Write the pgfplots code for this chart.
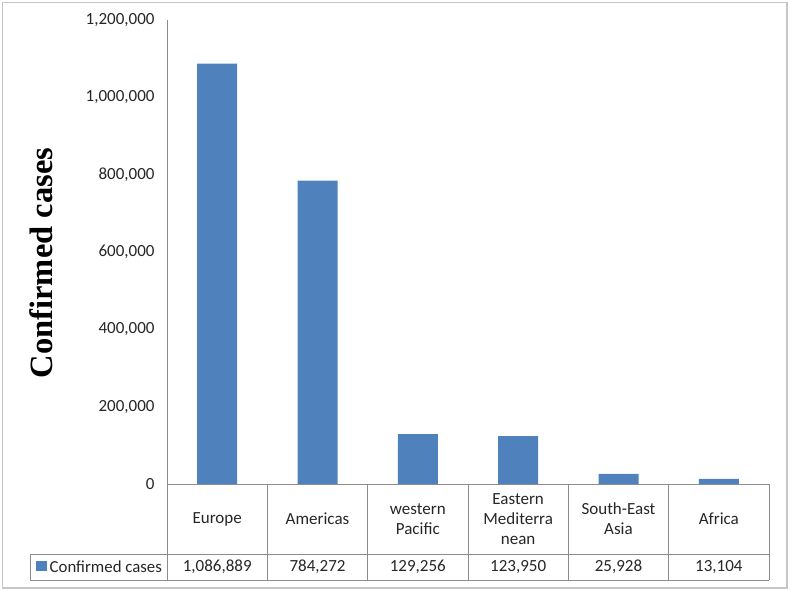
\documentclass[border=0pt]{standalone}
\usepackage{pgfplots}
\pgfplotsset{compat=1.18}
\usepackage{fontspec}
\setmainfont{Carlito}
\newfontfamily\timesfont{Liberation Serif}
\definecolor{barblue}{HTML}{4F81BD}
\definecolor{linegray}{HTML}{8C8C8C}
\begin{document}
\begin{tikzpicture}[x=1pt,y=1pt]
\path[use as bounding box] (0,0) rectangle (790,591);
\draw[gray!45, line width=1.6pt] (2.5,3) rectangle (787,588.5);
\begin{axis}[
  at={(167pt,107pt)}, anchor=south west,
  scale only axis, width=602pt, height=464pt,
  ybar, bar width=40pt,
  xmin=-0.5, xmax=5.5, ymin=0, ymax=1200000,
  axis x line*=bottom, axis y line*=left,
  axis line style={linegray, -, line width=0.8pt},
  major tick length=0pt,
  ytick={0,200000,400000,600000,800000,1000000,1200000},
  yticklabels={0,{200,000},{400,000},{600,000},{800,000},{1,000,000},{1,200,000}},
  scaled y ticks=false,
  yticklabel style={font=\fontsize{17}{19}\selectfont, text=black!85, xshift=-9pt},
  xtick={0,1,2,3,4,5},
  xticklabels={Europe, Americas, {western\\Pacific}, {Eastern\\Mediterra\\nean}, {South-East\\Asia}, Africa},
  xticklabel style={font=\fontsize{17}{20}\selectfont, text=black!85, align=center, anchor=center, yshift=-35pt},
  clip=false,
]
\addplot[fill=barblue, draw=none] coordinates {(0,1086889) (1,784272) (2,129256) (3,123950) (4,25928) (5,13104)};
\end{axis}
% data table
\begin{scope}[linegray, line width=0.8pt]
\draw (30,37) -- (769,37);
\draw (30,11) -- (769,11);
\draw (30,11) -- (30,37);
\foreach \xx in {167,267.3,367.7,468,568.3,668.7,769} { \draw (\xx,11) -- (\xx,107); }
\end{scope}
\fill[barblue] (36,19.5) rectangle (46.5,30);
\node[anchor=west, inner sep=0pt, font=\fontsize{16.8}{19}\selectfont, text=black!85] at (49.5,24.5) {Confirmed cases};
\begin{scope}[every node/.style={font=\fontsize{17}{19}\selectfont, text=black!85}]
\node at (217.2,24) {1,086,889};
\node at (317.5,24) {784,272};
\node at (417.8,24) {129,256};
\node at (518.2,24) {123,950};
\node at (618.5,24) {25,928};
\node at (718.8,24) {13,104};
\end{scope}
\node[rotate=90, font=\timesfont\bfseries\fontsize{32.5}{35}\selectfont] at (41,328) {Confirmed cases};
\end{tikzpicture}
\end{document}
